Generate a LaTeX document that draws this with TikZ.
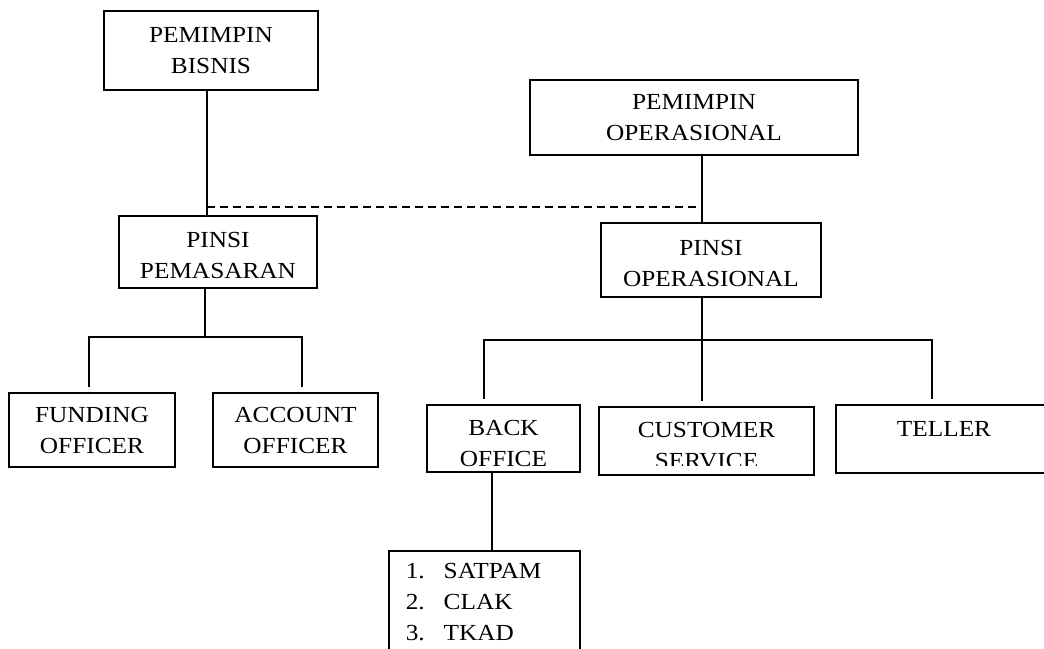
\documentclass[tikz,border=0pt]{standalone}
\usepackage{fontspec}
\setmainfont{Liberation Serif}[FakeStretch=1.1]
\newcommand{\orgfont}{\fontsize{23}{31}\selectfont}
\newcommand{\tup}[1]{\rule{0pt}{#1}}
\tikzset{
  orgbox/.style={draw=black, line width=1.5pt, inner sep=0pt, align=center, font=\orgfont, text=black},
  orgtxt/.style={inner sep=0pt, align=center, font=\orgfont, text=black},
  orgline/.style={draw=black, line width=1.5pt},
}
\begin{document}
\begin{tikzpicture}[x=1pt,y=-1pt]
\clip (0,0) rectangle (1044,648);
\fill[white] (0,0) rectangle (1044,648);

% boxes
\node[orgbox, minimum width=214pt, minimum height=79pt] (pb) at (211,50.5) {PEMIMPIN\\BISNIS};
\node[orgbox, minimum width=328pt, minimum height=75pt] (po) at (694,117.5) {PEMIMPIN\\OPERASIONAL};
\node[orgbox, minimum width=198pt, minimum height=72pt] (pp) at (218,252) {\tup{23pt}PINSI\\PEMASARAN};
\node[orgbox, minimum width=220pt, minimum height=74pt] (pio) at (711,260) {\tup{22pt}PINSI\\OPERASIONAL};
\node[orgbox, minimum width=166pt, minimum height=74pt] (fo) at (92,430) {FUNDING\\OFFICER};
\node[orgbox, minimum width=165pt, minimum height=74pt] (ao) at (295.5,430) {ACCOUNT\\OFFICER};
\node[orgbox, minimum width=153pt, minimum height=67pt] (bo) at (503.5,438.5) {\tup{25pt}BACK\\OFFICE};
\node[orgbox, minimum width=215pt, minimum height=68pt] (cs) at (706.5,441) {};
\begin{scope}
  \clip (599,400) rectangle (814,465);
  \node[orgtxt] (cst) at (706.5,445.5) {CUSTOMER\\SERVICE};
\end{scope}
\node[orgbox, minimum width=216pt, minimum height=68pt] (te) at (944,439) {\tup{25pt}TELLER\\~};
\node[orgbox, anchor=north west, align=left, text width=157pt, inner xsep=17pt, inner ysep=13pt] (list) at (388,550)
  {\makebox[38pt][l]{1.}SATPAM\\\makebox[38pt][l]{2.}CLAK\\\makebox[38pt][l]{3.}TKAD};

% connectors
\coordinate (dl) at (207,207);
\coordinate (dr) at (702,207);
\draw[orgline] (pb.south -| dl) -- (pp.north -| dl);
\draw[orgline] (po.south -| dr) -- (pio.north -| dr);
\draw[orgline, dash pattern=on 8pt off 5pt] (dl) -- (dr);

\coordinate (bl) at (205,337);
\coordinate (fd) at (89,387);
\coordinate (ad) at (302,387);
\draw[orgline] (pp.south -| bl) -- (bl);
\draw[orgline] (fd) |- (bl) -| (ad);

\coordinate (br) at (702,340);
\coordinate (bd) at (484,399);
\coordinate (cd) at (702,401);
\coordinate (td) at (932,399);
\draw[orgline] (pio.south -| br) -- (br) -- (cd);
\draw[orgline] (bd) |- (br) -| (td);

\coordinate (ld) at (492,500);
\draw[orgline] (bo.south -| ld) -- (list.north -| ld);
\end{tikzpicture}
\end{document}
